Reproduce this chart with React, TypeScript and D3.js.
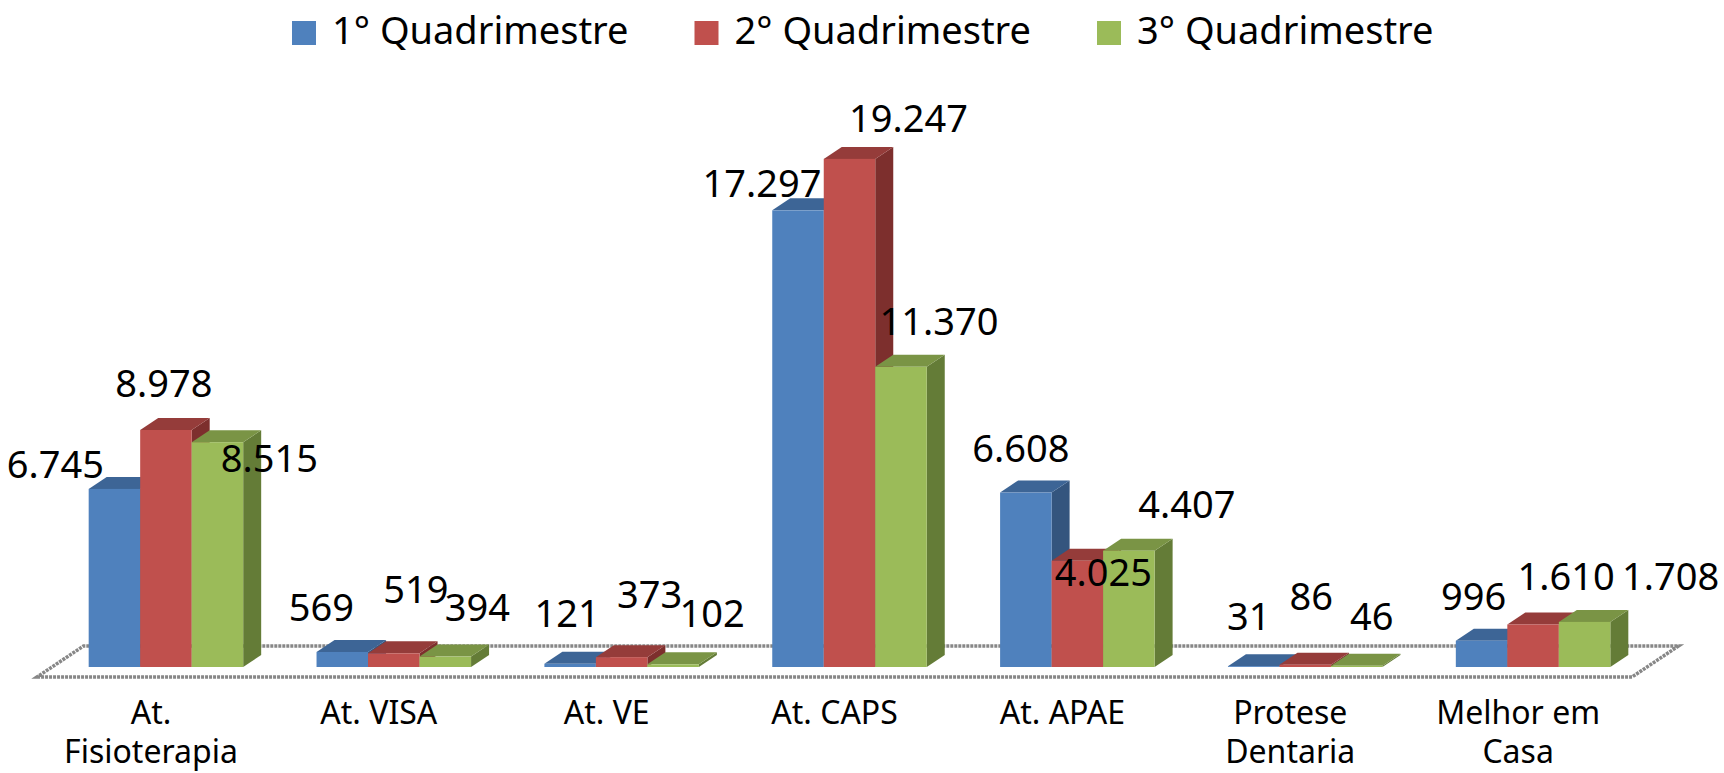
import React from "react";
import * as d3 from "d3";

// ---------- data ----------
const categories = [
  "At.\nFisioterapia",
  "At. VISA",
  "At. VE",
  "At. CAPS",
  "At. APAE",
  "Protese\nDentaria",
  "Melhor em\nCasa",
];
const seriesNames = ["1° Quadrimestre", "2° Quadrimestre", "3° Quadrimestre"];
const q1 = [6745, 569, 121, 17297, 6608, 31, 996];
const q2 = [8978, 519, 373, 19247, 4025, 86, 1610];
const q3 = [8515, 394, 102, 11370, 4407, 46, 1708];
const seriesValues = [q1, q2, q3];

// ---------- layout / style ----------
const W = 1724;
const H = 773;
const frontColors = ["#4F81BD", "#C0504D", "#9BBB59"];
const topColors = ["#3D6596", "#953C3A", "#7A9445"];
const sideColors = ["#34557E", "#7D2F2D", "#647C37"];
const depthX = 18;
const depthY = 12;
const baseY = 667;
const plotLeft = 52;
const plotRight = 1647;
const floorFront = 0.83;
const floorBack = 1.75;
const FONT = "'Noto Sans', 'DejaVu Sans', sans-serif";

// label nudges (dx, dy) relative to bar front-top center, per series per category
const labelNudge = [
  [[-59, -11], [-21, -31], [-3, -37], [-36, -13], [-5, -31], [-5, -36], [-8, -31]],
  [[-2, -33], [22, -50], [28, -49], [59, -27], [26, 25], [6, -55], [33, -34]],
  [[52, 30], [32, -36], [39, -37], [38, -32], [58, -33], [15, -36], [86, -32]],
];

const fmt = d3.formatLocale({ decimal: ",", thousands: ".", grouping: [3], currency: ["", ""] }).format(",d");

export default function App() {
  const x = d3.scaleBand<string>().domain(categories).range([plotLeft, plotRight]).padding(0);
  const inner = d3
    .scaleBand<string>()
    .domain(seriesNames)
    .range([-77.25, 77.25])
    .padding(0);
  const y = d3.scaleLinear().domain([0, 20000]).range([baseY, baseY - 528]);

  const bw = inner.bandwidth();

  // floor parallelogram
  const fl = [
    [plotLeft - floorFront * depthX, baseY + floorFront * depthY],
    [plotRight - floorFront * depthX, baseY + floorFront * depthY],
    [plotRight + floorBack * depthX, baseY - floorBack * depthY],
    [plotLeft + floorBack * depthX, baseY - floorBack * depthY],
  ];

  const bars: React.ReactNode[] = [];
  const labels: React.ReactNode[] = [];
  categories.forEach((c, ci) => {
    const cx = (x(c) as number) + x.bandwidth() / 2;
    seriesNames.forEach((s, si) => {
      const v = seriesValues[si][ci];
      const x0 = cx + (inner(s) as number);
      const x1 = x0 + bw;
      const yt = y(v);
      const top = `M${x0},${yt}L${x1},${yt}L${x1 + depthX},${yt - depthY}L${x0 + depthX},${yt - depthY}Z`;
      const side = `M${x1},${yt}L${x1 + depthX},${yt - depthY}L${x1 + depthX},${baseY - depthY}L${x1},${baseY}Z`;
      bars.push(
        <g key={`b${ci}-${si}`}>
          <path d={side} fill={sideColors[si]} />
          <path d={top} fill={topColors[si]} />
          <rect x={x0} y={yt} width={bw} height={baseY - yt} fill={frontColors[si]} />
        </g>
      );
      const [dx, dy] = labelNudge[si][ci];
      labels.push(
        <text
          key={`l${ci}-${si}`}
          x={x0 + bw / 2 + dx}
          y={yt + dy}
          textAnchor="middle"
          fontSize={38}
          fontFamily={FONT}
          fill="#000"
        >
          {fmt(v)}
        </text>
      );
    });
  });

  const catLabels = categories.map((c, ci) => {
    const cx = (x(c) as number) + x.bandwidth() / 2 - floorFront * depthX;
    const lines = c.split("\n");
    return (
      <text key={`c${ci}`} textAnchor="middle" fontSize={32} fontFamily={FONT} fill="#000">
        {lines.map((ln, li) => (
          <tspan key={li} x={cx} y={724 + li * 39}>
            {ln}
          </tspan>
        ))}
      </text>
    );
  });

  const legendX = d3.scaleLinear().domain([0, 1]).range([292, 694.5]);
  const legend = seriesNames.map((s, si) => {
    const lx = legendX(si);
    return (
      <g key={`g${si}`}>
        <rect x={lx} y={21} width={24} height={24} fill={frontColors[si]} />
        <text x={lx + 40} y={44} fontSize={38} fontFamily={FONT} fill="#000">
          {s}
        </text>
      </g>
    );
  });

  return (
    <div style={{ position: "fixed", left: 0, top: 0 }}>
      <svg width={W} height={H} viewBox={`0 0 ${W} ${H}`} style={{ display: "block", background: "#fff" }}>
        <rect width={W} height={H} fill="#fff" />
        <polygon
          points={fl.map((p) => p.join(",")).join(" ")}
          fill="none"
          stroke="#878787"
          strokeWidth={3.5}
          strokeDasharray="3 1"
        />
        {bars}
        {labels}
        {catLabels}
        {legend}
      </svg>
    </div>
  );
}
